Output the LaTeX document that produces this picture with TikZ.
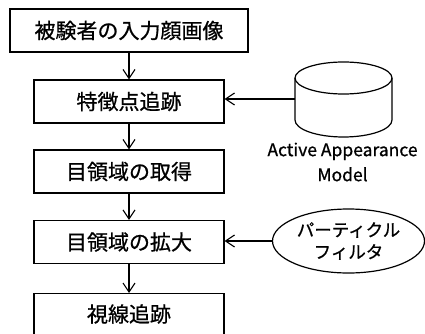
\documentclass[tikz,border=0pt]{standalone}
\usepackage{fontspec}
\setmainfont{Noto Sans CJK JP}[FakeBold=0.8]
\usetikzlibrary{arrows.meta,shapes.geometric}
\begin{document}
\begin{tikzpicture}[x=1pt,y=1pt,
  line width=1.2pt,
  stepbox/.style={draw, minimum width=190pt, minimum height=43pt, inner sep=0pt, font=\fontsize{21}{25}\selectfont},
  arr/.style={-{Straight Barb[length=9pt,width=12pt,line width=1.1pt]}}]
\useasboundingbox (0,0) rectangle (425,-334);
\clip (0,0) rectangle (425,-334);
\node[stepbox, minimum width=238pt] (b1) at (129,-30.5) {被験者の入力顔画像};
\node[stepbox] (b2) at (129,-101.5) {特徴点追跡};
\node[stepbox] (b3) at (129,-171.5) {目領域の取得};
\node[stepbox] (b4) at (129,-242) {目領域の拡大};
\node[stepbox, minimum height=48pt, anchor=north] (b5) at (129,-293) {};
\node[font=\fontsize{21}{25}\selectfont] (t5) at (129,-314) {視線追跡};
\draw[arr] (b1) -- (b2);
\draw[arr] (b2) -- (b3);
\draw[arr] (b3) -- (b4);
\draw[arr] (b4) -- (b5);
% cylinder
\draw (343.5,-78) ellipse [x radius=48.5pt, y radius=16pt];
\draw (295,-78) -- (295,-120) arc[start angle=180, end angle=360, x radius=48.5pt, y radius=17pt] -- (392,-78);
\coordinate (cyl) at (295,-99);
\draw[arr] (cyl) -- (b2.east |- cyl);
\node[align=center, font=\fontsize{17.5}{25}\selectfont] (aam) at (342.5,-162) {Active Appearance\\Model};
% ellipse
\node[draw, ellipse, minimum width=152pt, minimum height=64pt, inner sep=0pt, align=center, font=\fontsize{17.5}{22}\selectfont] (pf) at (348.5,-241) {パーティクル\\フィルタ};
\draw[arr] (pf.west) -- (b4.east |- pf.west);
\end{tikzpicture}
\end{document}
